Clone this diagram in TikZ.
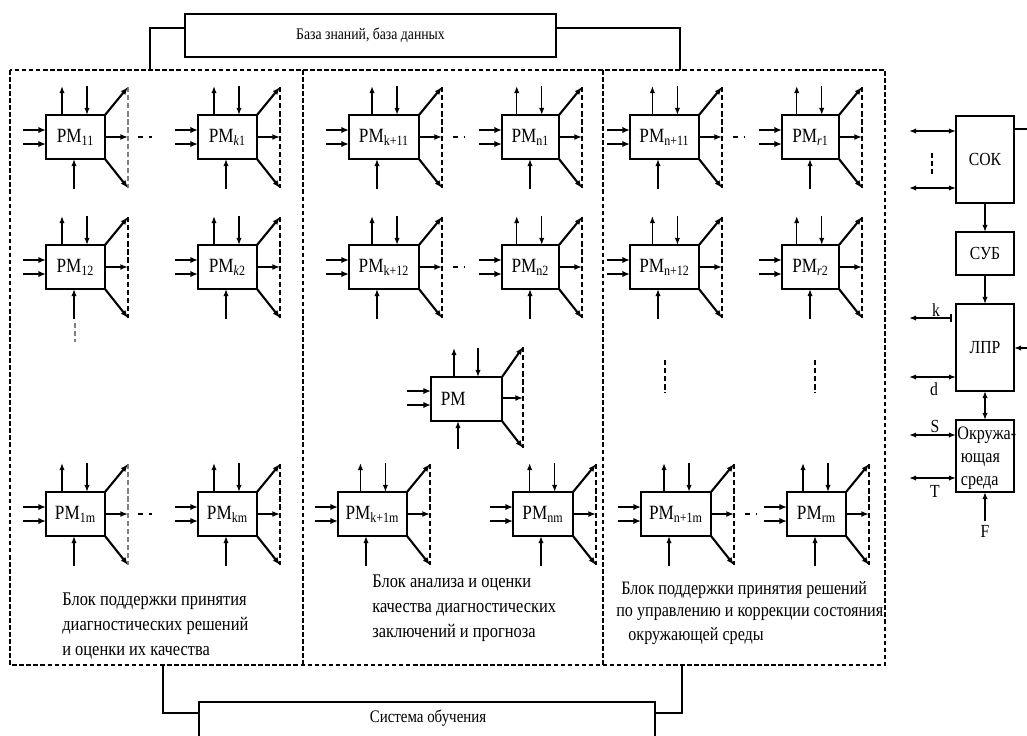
\documentclass[tikz,border=0pt]{standalone}
\usepackage{fontspec}
\setmainfont{Liberation Serif}[FakeStretch=0.85]
\usetikzlibrary{arrows.meta,calc}
\tikzset{
  box/.style={draw, line width=0.8pt, inner sep=0pt, outer sep=0pt},
  rmbox/.style={box, minimum height=44*0.02cm, font=\fontsize{11.5}{13}\selectfont},
  thinarr/.style={line width=0.8pt, -{Latex[length=4pt,width=3pt]}},
  dblarr/.style={line width=0.9pt, {Latex[length=4pt,width=3pt]}-{Latex[length=4pt,width=3pt]}},
  thickarr/.style={line width=1.4pt, -{Latex[length=4.4pt,width=3.6pt]}},
  diagarr/.style={line width=1.2pt, -{Latex[length=4.4pt,width=3.4pt]}},
  dvert/.style={line width=0.6pt, dash pattern=on 3pt off 1.6pt},
  outer/.style={line width=0.7pt, dash pattern=on 2.6pt off 1.4pt},
  sepdash/.style={line width=0.9pt, dash pattern=on 3pt off 3pt},
  txt/.style={inner sep=0pt, anchor=base west, font=\fontsize{11}{13}\selectfont},
  lbl/.style={inner sep=0pt, font=\fontsize{10.5}{12}\selectfont}
}
% #1 dash colour, #2 name, #3 X, #4 Y, #5 width, #6 subscript
\newcommand{\rmblk}[6][black]{%
  \pgfmathsetmacro{\rmUx}{#3+16+0.64*(#5-59)}%
  \pgfmathsetmacro{\rmDx}{\rmUx+25}%
  \node[rmbox, minimum width=#5*0.02cm, anchor=north west] (#2) at (#3,#4) {PM\textsubscript{#6}};
  \coordinate (#2-up) at (\rmUx,#4-29);
  \coordinate (#2-dn) at (\rmDx,#4-29);
  \coordinate (#2-bt) at (#3+28,#4+74);
  \coordinate (#2-i1) at (#3-23,#4+15);
  \coordinate (#2-i2) at (#3-23,#4+29);
  \coordinate (#2-du) at (#3+#5+23,#4-28);
  \coordinate (#2-dd) at (#3+#5+23,#4+73);
  \coordinate (#2-mo) at (#3+#5+23,#4+22);
  \draw[thinarr] (#2.north -| #2-up) -- (#2-up);
  \draw[thinarr] (#2-dn) -- (#2.north -| #2-dn);
  \draw[thinarr] (#2-bt) -- (#2.south -| #2-bt);
  \draw[thickarr] (#2-i1) -- (#2.west |- #2-i1);
  \draw[thickarr] (#2-i2) -- (#2.west |- #2-i2);
  \draw[dvert,#1] (#2-du) -- (#2-dd);
  \draw[diagarr] (#2.north east) -- (#2-du);
  \draw[diagarr] (#2.east |- #2-mo) -- (#2-mo);
  \draw[diagarr] (#2.south east) -- (#2-dd);
}
\begin{document}
\begin{tikzpicture}[x=0.02cm,y=-0.02cm]
\useasboundingbox[fill=white] (0,0) rectangle (1027,735);

% knowledge base
\node[box, minimum width=371*0.02cm, minimum height=43*0.02cm, anchor=north west,
      font=\fontsize{9.2}{11}\selectfont] (kb) at (185,14) {База знаний, база данных};
\coordinate (kbl) at (150,28);
\coordinate (kbr) at (680,28);
\coordinate (kbld) at (150,70);
\coordinate (kbrd) at (680,70);
\draw[line width=0.8pt] (kb.west |- kbl) -- (kbl) -- (kbld);
\draw[line width=0.8pt] (kb.east |- kbr) -- (kbr) -- (kbrd);

% outer dashed frame and column dividers
\draw[outer] (10,70) rectangle (885,665);
\draw[outer] (303,70) -- (303,665);
\draw[outer] (603,70) -- (603,665);

% learning system
\node[box, minimum width=456*0.02cm, minimum height=70*0.02cm, anchor=north west] (so) at (199,702) {};
\node[inner sep=0pt, font=\fontsize{10}{12}\selectfont] (sot) at (428,718) {Система обучения};
\coordinate (sol) at (163,713);
\coordinate (sor) at (682,713);
\coordinate (sold) at (163,665);
\coordinate (sord) at (682,665);
\draw[line width=0.8pt] (sold) -- (sol) -- (so.west |- sol);
\draw[line width=0.8pt] (sord) -- (sor) -- (so.east |- sor);

% column 1
\rmblk[gray]{r11}{46}{115}{59}{11}
\rmblk{rk1}{198}{115}{59}{\textit{k}1}
\rmblk{r12}{46}{245}{59}{12}
\rmblk{rk2}{198}{245}{59}{\textit{k}2}
\rmblk[gray]{r1m}{46}{492}{59}{1m}
\rmblk{rkm}{198}{492}{59}{km}
\draw[sepdash] (138,137) -- (152,137);
\draw[sepdash] (138,514) -- (152,514);
\draw[dvert, gray] (75,323) -- (75,342);

% column 2
\rmblk{rk11}{349}{115}{70}{k+11}
\rmblk{rn1}{502}{115}{57}{n1}
\rmblk{rk12}{349}{245}{70}{k+12}
\rmblk{rn2}{502}{245}{57}{n2}
\node[rmbox, minimum width=71*0.02cm, anchor=north west, text width=62*0.02cm, align=left] (rmc) at (431,377) {\hspace*{3pt}PM};
\coordinate (rmc-up) at (454,348);
\coordinate (rmc-dn) at (478,348);
\coordinate (rmc-bt) at (458,449);
\coordinate (rmc-i1) at (407,391);
\coordinate (rmc-i2) at (407,405);
\coordinate (rmc-du) at (523,347);
\coordinate (rmc-dd) at (523,448);
\coordinate (rmc-mo) at (523,398);
\draw[thinarr] (rmc.north -| rmc-up) -- (rmc-up);
\draw[thinarr] (rmc-dn) -- (rmc.north -| rmc-dn);
\draw[thinarr] (rmc-bt) -- (rmc.south -| rmc-bt);
\draw[thickarr] (rmc-i1) -- (rmc.west |- rmc-i1);
\draw[thickarr] (rmc-i2) -- (rmc.west |- rmc-i2);
\draw[dvert] (rmc-du) -- (rmc-dd);
\draw[diagarr] (rmc.north east) -- (rmc-du);
\draw[diagarr] (rmc.east |- rmc-mo) -- (rmc-mo);
\draw[diagarr] (rmc.south east) -- (rmc-dd);
\rmblk{rk1m}{338}{492}{69}{k+1m}
\rmblk{rnm}{513}{492}{60}{nm}
\draw[sepdash] (453,137) -- (465,137);
\draw[sepdash] (453,267) -- (465,267);

% column 3
\rmblk{rn11}{630}{115}{69}{n+11}
\rmblk{rr1}{782}{115}{57}{\textit{r}1}
\rmblk{rn12}{630}{245}{69}{n+12}
\rmblk{rr2}{782}{245}{57}{\textit{r}2}
\rmblk{rn1m}{641}{492}{70}{n+1m}
\rmblk{rrm}{787}{492}{59}{rm}
\draw[sepdash] (733,137) -- (745,137);
\draw[sepdash] (745,514) -- (757,514);
\draw[dvert] (665,360) -- (665,393);
\draw[dvert] (815,360) -- (815,393);

% column captions
\node[txt] (c1a) at (62,605) {Блок поддержки принятия};
\node[txt] (c1b) at (62,630) {диагностических решений};
\node[txt] (c1c) at (62,655) {и оценки их качества};
\node[txt] (c2a) at (372,587) {Блок анализа и оценки};
\node[txt] (c2b) at (372,612) {качества диагностических};
\node[txt] (c2c) at (372,637) {заключений и прогноза};
\node[txt, font=\fontsize{10.8}{13}\selectfont] (c3a) at (621,594) {Блок поддержки принятия решений};
\node[txt, font=\fontsize{10.8}{13}\selectfont] (c3b) at (616,616) {по управлению и коррекции состояния};
\node[txt, font=\fontsize{10.8}{13}\selectfont] (c3c) at (628,640) {окружающей среды};

% right side
\node[box, minimum width=58*0.02cm, minimum height=87*0.02cm, anchor=north west, lbl] (sok) at (956,116) {СОК};
\node[box, minimum width=58*0.02cm, minimum height=43*0.02cm, anchor=north west, lbl] (sub) at (956,232) {СУБ};
\node[box, minimum width=58*0.02cm, minimum height=87*0.02cm, anchor=north west, lbl] (lpr) at (956,304) {ЛПР};
\node[box, minimum width=58*0.02cm, minimum height=72*0.02cm, anchor=north west] (env) at (956,420) {};
\node[lbl, anchor=north west, align=left, font=\fontsize{10.8}{13}\selectfont] (envt) at (957,427) {Окружа-\\\hspace*{2pt}ющая\\\hspace*{2pt}среда};

\draw[thinarr] (sok) -- (sub);
\draw[thinarr] (sub) -- (lpr);
\draw[dblarr] (lpr) -- (env);

\coordinate (s1) at (909,131);
\coordinate (s2) at (909,188);
\draw[dblarr] (s1) -- (sok.west |- s1);
\draw[dblarr] (s2) -- (sok.west |- s2);
\draw[dvert] (932,153) -- (932,176);
\coordinate (sokr) at (1030,129);
\draw[line width=0.6pt] (sok.east |- sokr) -- (sokr);

\coordinate (lprr) at (1030,348);
\draw[thinarr] (lprr) -- (lpr.east |- lprr);

\coordinate (kl) at (909,318);
\coordinate (kr) at (952,318);
\draw[line width=0.9pt, {Latex[length=4pt,width=3pt]}-{Bar[width=5pt]}] (kl) -- (kr);
\node[lbl] (klab) at (936,310) {k};
\coordinate (dl) at (909,377);
\draw[dblarr] (dl) -- (lpr.west |- dl);
\node[lbl] (dlab) at (934,389) {d};

\coordinate (sl) at (909,435);
\draw[dblarr] (sl) -- (env.west |- sl);
\node[lbl] (slab) at (935,426) {S};
\coordinate (tl) at (909,478);
\draw[dblarr] (tl) -- (env.west |- tl);
\node[lbl] (tlab) at (935,491) {T};
\coordinate (fb) at (985,521);
\draw[thinarr] (fb) -- (env.south);
\node[lbl] (flab) at (985,531) {F};
\end{tikzpicture}
\end{document}
